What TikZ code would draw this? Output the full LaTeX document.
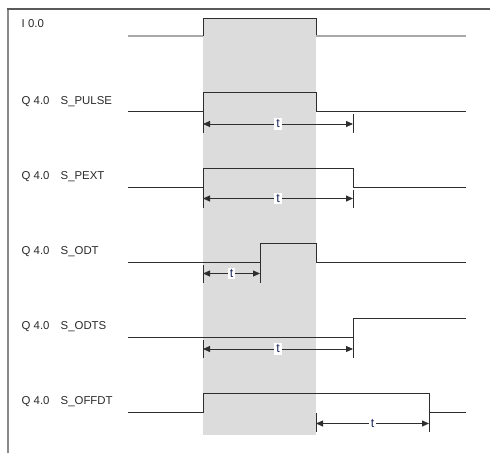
\documentclass[tikz,border=0pt]{standalone}
\usepackage{fontspec}
\setmainfont{Liberation Sans}
\usetikzlibrary{arrows.meta}
\definecolor{pulseshade}{HTML}{DCDCDC}
\definecolor{sigline}{HTML}{2E2E2E}
\definecolor{idleline}{HTML}{A8A8A8}
\definecolor{frametop}{HTML}{5A5A5A}
\definecolor{frameleft}{HTML}{8A8A8A}
\definecolor{labeltext}{HTML}{2A2A2A}
\definecolor{tcolor}{HTML}{1F2A5C}
\begin{document}
\begin{tikzpicture}[x=1pt,y=-1pt,
  sig/.style={draw=sigline,line width=0.85pt,line join=miter},
  idle/.style={draw=idleline,line width=1.4pt},
  dimline/.style={draw=sigline,line width=0.8pt,
    {Triangle[length=7pt,width=6pt]}-{Triangle[length=7pt,width=6pt]}},
  tickline/.style={draw=sigline,line width=0.85pt},
  lbl/.style={anchor=base west,inner sep=0pt,text=labeltext,
    font=\fontsize{11.4}{13}\selectfont},
  tlbl/.style={fill=white,inner sep=1.8pt,text=tcolor,
    font=\fontsize{12.5}{14}\selectfont}]
\useasboundingbox (0,0) rectangle (490,453);

% shaded input pulse window
\fill[pulseshade] (203,18) rectangle (316,435);

% frame
\draw[frameleft,line width=1.4pt] (8,453) -- (8,9);
\draw[frametop,line width=1.4pt] (7.3,9) -- (490,9);

% input I 0.0
\node[lbl] (lin) at (21.5,27.3) {I 0.0};
\draw[idle] (128,36) -- (203,36);
\draw[sig] (203,36) -- (203,18) -- (316,18) -- (316,36);
\draw[idle] (316,36) -- (466,36);

% S_PULSE
\node[lbl] (lq1) at (21.5,104) {Q 4.0};
\node[lbl] (ln1) at (60.5,104) {S\_PULSE};
\draw[sig] (128,111) -- (203,111) -- (203,92) -- (316,92) -- (316,111) -- (466,111);
\coordinate (a1) at (203,124);
\coordinate (b1) at (353,124);
\draw[tickline] (203,111) -- (203,133);
\draw[tickline] (353,114) -- (353,133);
\draw[dimline] (a1) -- node[tlbl] {t} (b1);

% S_PEXT
\node[lbl] (lq2) at (21.5,179.2) {Q 4.0};
\node[lbl] (ln2) at (60.5,179.2) {S\_PEXT};
\draw[sig] (128,187) -- (203,187) -- (203,168) -- (353,168) -- (353,187) -- (466,187);
\coordinate (a2) at (203,198.5);
\coordinate (b2) at (353,198.5);
\draw[tickline] (203,187) -- (203,208);
\draw[tickline] (353,190) -- (353,208);
\draw[dimline] (a2) -- node[tlbl] {t} (b2);

% S_ODT
\node[lbl] (lq3) at (21.5,254.2) {Q 4.0};
\node[lbl] (ln3) at (60.5,254.2) {S\_ODT};
\draw[sig] (128,262) -- (260,262) -- (260,243) -- (316,243) -- (316,262) -- (466,262);
\coordinate (a3) at (203,273.5);
\coordinate (b3) at (260,273.5);
\draw[tickline] (203,265) -- (203,283);
\draw[tickline] (260,262) -- (260,283);
\draw[dimline] (a3) -- node[tlbl] {t} (b3);

% S_ODTS
\node[lbl] (lq4) at (21.5,329.6) {Q 4.0};
\node[lbl] (ln4) at (60.5,329.6) {S\_ODTS};
\draw[sig] (128,337.5) -- (353,337.5) -- (353,318.5) -- (466,318.5);
\coordinate (a4) at (203,349);
\coordinate (b4) at (353,349);
\draw[tickline] (203,340) -- (203,358);
\draw[tickline] (353,337.5) -- (353,358);
\draw[dimline] (a4) -- node[tlbl] {t} (b4);

% S_OFFDT
\node[lbl] (lq5) at (21.5,404.8) {Q 4.0};
\node[lbl] (ln5) at (60.5,404.8) {S\_OFFDT};
\draw[sig] (128,412.5) -- (203,412.5) -- (203,393.5) -- (429,393.5) -- (429,412.5) -- (466,412.5);
\coordinate (a5) at (316,423.5);
\coordinate (b5) at (429,423.5);
\draw[tickline] (316,413) -- (316,432);
\draw[tickline] (429,412.5) -- (429,432);
\draw[dimline] (a5) -- node[tlbl] {t} (b5);
\end{tikzpicture}
\end{document}
